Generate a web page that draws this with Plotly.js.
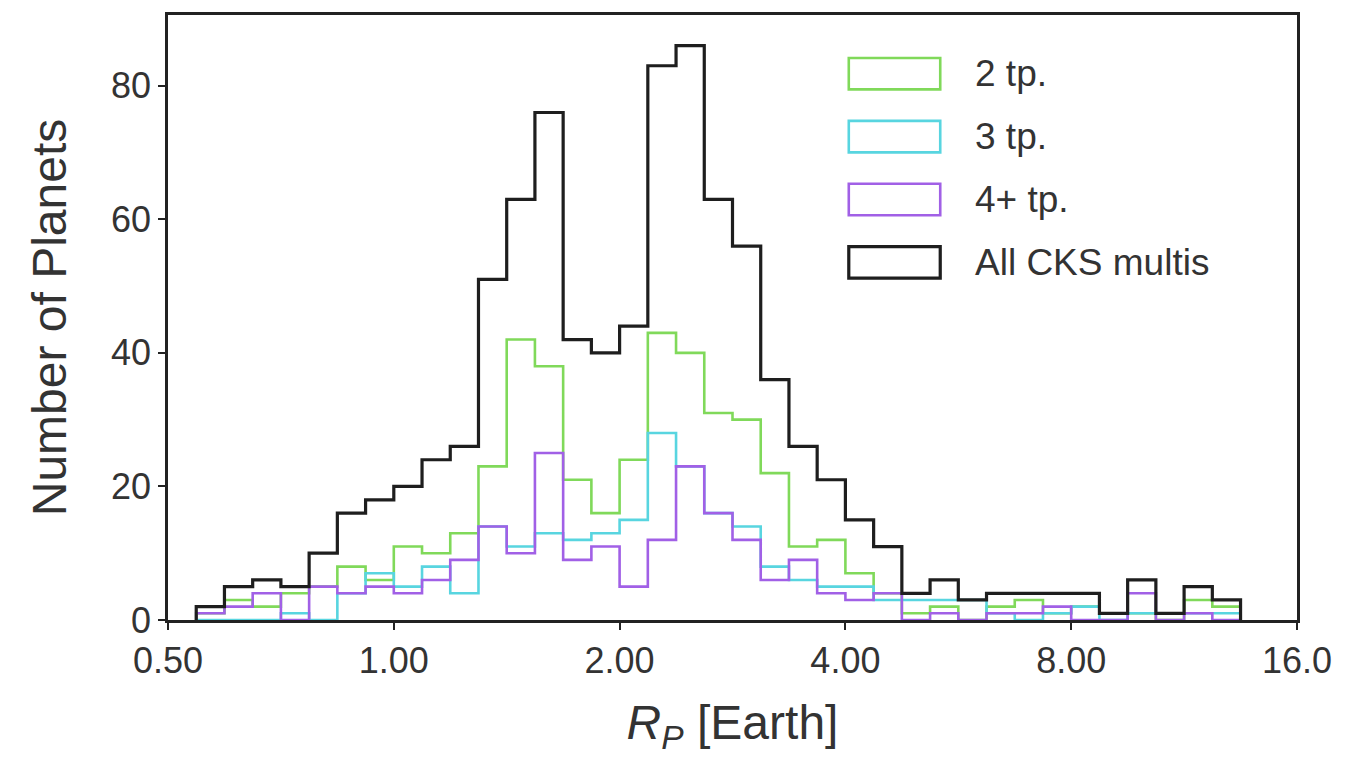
<!DOCTYPE html>
<html>
<head>
<meta charset="utf-8">
<script src="https://cdn.plot.ly/plotly-3.0.1.min.js"></script>
<style>
  html, body { margin: 0; padding: 0; background: #ffffff; }
  #chart { width: 1346px; height: 759px; }
</style>
</head>
<body>
<div id="chart"></div>
<script>
// ---- Data ----
// Bins are equal-width in log2(R_P): first lower edge at log2 = -0.875, width 1/8
const binLog2Start = -0.875;
const binLog2Width = 0.125;

const seriesNames = ['2 tp.', '3 tp.', '4+ tp.', 'All CKS multis'];

const counts2tp = [1, 3, 2, 4, 5, 8, 6, 11, 10, 13, 23, 42, 38, 21, 16, 24, 43, 40, 31, 30,
                   22, 11, 12, 7, 4, 1, 2, 0, 2, 3, 1, 2, 1, 1, 0, 3, 2];
const counts3tp = [0, 0, 0, 1, 0, 4, 7, 5, 8, 4, 14, 11, 13, 12, 13, 15, 28, 23, 16, 14,
                   8, 6, 5, 5, 3, 3, 3, 3, 1, 0, 1, 2, 0, 1, 1, 1, 1];
const counts4tp = [1, 2, 4, 0, 5, 4, 5, 4, 6, 9, 14, 10, 25, 9, 11, 5, 12, 23, 16, 12,
                   6, 9, 4, 3, 4, 0, 1, 0, 1, 1, 2, 0, 0, 4, 0, 1, 0];
const countsAll = [2, 5, 6, 5, 10, 16, 18, 20, 24, 26, 51, 63, 76, 42, 40, 44, 83, 86, 63, 56,
                   36, 26, 21, 15, 11, 4, 6, 3, 4, 4, 4, 4, 1, 6, 1, 5, 3];

const xTickVals = [0.5, 1, 2, 4, 8, 16];
const xTickText = ['0.50', '1.00', '2.00', '4.00', '8.00', '16.0'];
const yTickVals = [0, 20, 40, 60, 80];

// ---- Styles ----
const colors = ['#80d95a', '#58d5e0', '#a160e6', '#1e1e1e'];
const widths = [2.6, 2.6, 2.6, 3.2];
const FONT = '"Liberation Sans", Arial, Helvetica, sans-serif';

// ---- Build step outlines ----
const nBins = countsAll.length;
const edges = [];
for (let k = 0; k <= nBins; k++) edges.push(Math.pow(2, binLog2Start + k * binLog2Width));

function stepTrace(counts, name, color, width) {
  const xs = [edges[0]], ys = [0];
  for (let i = 0; i < counts.length; i++) { xs.push(edges[i]); ys.push(counts[i]); }
  xs.push(edges[counts.length]); ys.push(0);
  return {
    type: 'scatter', mode: 'lines', name: name, x: xs, y: ys,
    line: { shape: 'hv', color: color, width: width },
    hoverinfo: 'skip', showlegend: false
  };
}

const allCounts = [counts2tp, counts3tp, counts4tp, countsAll];
const traces = allCounts.map((c, i) => stepTrace(c, seriesNames[i], colors[i], widths[i]));

// ---- Legend drawn as boxes + text (paper coords) ----
const legendX0 = 0.603, legendX1 = 0.684, legendTextX = 0.713;
const legendYc = [0.903, 0.799, 0.695, 0.591];
const legendHalfH = 0.026;
const shapes = [], annotations = [];
legendYc.forEach((yc, i) => {
  shapes.push({
    type: 'rect', xref: 'paper', yref: 'paper',
    x0: legendX0, x1: legendX1, y0: yc - legendHalfH, y1: yc + legendHalfH,
    line: { color: colors[i], width: widths[i] }, fillcolor: 'rgba(255,255,255,0)'
  });
  annotations.push({
    xref: 'paper', yref: 'paper', x: legendTextX, y: yc,
    xanchor: 'left', yanchor: 'middle', showarrow: false,
    text: seriesNames[i], font: { family: FONT, size: 37, color: '#333333' }
  });
});

const layout = {
  width: 1346, height: 759,
  margin: { l: 168, r: 49, t: 15, b: 139 },
  paper_bgcolor: '#ffffff', plot_bgcolor: '#ffffff',
  showlegend: false,
  font: { family: FONT, color: '#333333' },
  xaxis: {
    type: 'log',
    range: [Math.log10(0.5), Math.log10(16)],
    tickmode: 'array', tickvals: xTickVals, ticktext: xTickText,
    ticks: 'outside', ticklen: 7, tickwidth: 2, tickcolor: '#222222',
    tickfont: { family: FONT, size: 36, color: '#333333' },
    showgrid: false, zeroline: false,
    showline: true, mirror: true, linecolor: '#222222', linewidth: 2.8,
    title: { text: '<i>R</i><sub><i>P</i></sub> [Earth]', font: { family: FONT, size: 48, color: '#333333' }, standoff: 26 }
  },
  yaxis: {
    range: [0, 90.6],
    tickmode: 'array', tickvals: yTickVals,
    ticks: 'outside', ticklen: 7, tickwidth: 2, tickcolor: '#222222',
    tickfont: { family: FONT, size: 36, color: '#333333' },
    showgrid: false, zeroline: false,
    showline: true, mirror: true, linecolor: '#222222', linewidth: 2.8,
    title: { text: 'Number of Planets', font: { family: FONT, size: 48, color: '#333333' }, standoff: 30 }
  },
  shapes: shapes,
  annotations: annotations
};

Plotly.newPlot('chart', traces, layout, { staticPlot: true, displayModeBar: false });
</script>
</body>
</html>
